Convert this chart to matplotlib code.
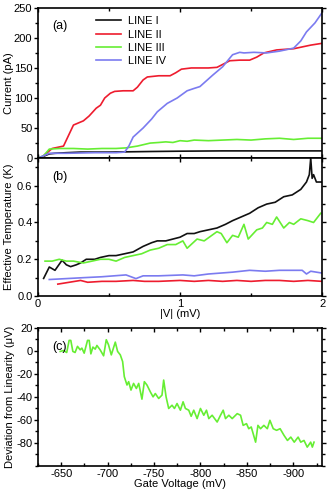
import matplotlib
matplotlib.use("Agg")
import matplotlib.pyplot as plt
from matplotlib.ticker import MultipleLocator, FixedLocator

plt.rcParams['font.family'] = ['Liberation Sans', 'DejaVu Sans']
plt.rcParams['font.size'] = 8
plt.rcParams['axes.unicode_minus'] = False

# ---------------- panel (a): current vs |V| ----------------
v_line1 = [0.0, 0.04, 0.08, 0.12, 0.2, 0.3, 0.5, 0.8, 1.0, 1.3, 1.6, 2.0]
i_line1 = [0, 3, 7, 8, 9, 10, 10, 11, 11.5, 12, 12, 12]

v_line2 = [0.0, 0.03, 0.06, 0.10, 0.14, 0.18, 0.21, 0.25, 0.28, 0.32, 0.36, 0.41,
           0.44, 0.47, 0.51, 0.54, 0.60, 0.67, 0.70, 0.74, 0.77, 0.85, 0.93,
           0.97, 1.01, 1.08, 1.20, 1.26, 1.31, 1.35, 1.42, 1.49, 1.54, 1.59,
           1.68, 1.80, 1.92, 2.0]
i_line2 = [0, 2, 8, 16, 18, 20, 35, 55, 58, 62, 70, 83, 88, 100, 108, 111,
           112, 112, 118, 130, 135, 137, 137, 142, 148, 150, 150, 151, 157,
           162, 163, 163, 168, 175, 180, 182, 188, 191]

v_line3 = [0.0, 0.04, 0.08, 0.15, 0.25, 0.35, 0.45, 0.55, 0.62, 0.70, 0.79,
           0.85, 0.90, 0.95, 1.00, 1.05, 1.10, 1.20, 1.30, 1.40, 1.50, 1.60,
           1.70, 1.80, 1.90, 2.0]
i_line3 = [0, 4, 15, 16, 16, 15, 16, 16, 17, 20, 25, 26, 27, 26, 29, 28, 30,
           29, 30, 31, 30, 32, 33, 31, 33, 33]

v_line4 = [0.0, 0.04, 0.08, 0.2, 0.4, 0.55, 0.61, 0.64, 0.67, 0.74, 0.80,
           0.84, 0.91, 0.98, 1.05, 1.10, 1.14, 1.23, 1.30, 1.37, 1.42, 1.45,
           1.52, 1.61, 1.70, 1.80, 1.85, 1.89, 1.95, 2.0]
i_line4 = [0, 4, 8, 8, 9, 9, 10, 20, 35, 50, 65, 77, 91, 100, 112, 116, 119,
           138, 152, 172, 176, 175, 176, 175, 178, 183, 195, 210, 225, 242]

# ---------------- panel (b): effective temperature ----------------
v_temp1 = [0.04, 0.08, 0.12, 0.17, 0.20, 0.23, 0.27, 0.30, 0.34, 0.40, 0.44,
           0.50, 0.55, 0.61, 0.67, 0.74, 0.80, 0.84, 0.90, 0.95, 1.00, 1.05,
           1.10, 1.14, 1.20, 1.26, 1.32, 1.37, 1.43, 1.49, 1.55, 1.61, 1.67,
           1.73, 1.79, 1.85, 1.89, 1.91, 1.92, 1.93, 1.94, 1.96, 2.0]
t_temp1 = [0.096, 0.158, 0.14, 0.195, 0.17, 0.16, 0.17, 0.18, 0.20, 0.20,
           0.21, 0.22, 0.22, 0.23, 0.24, 0.27, 0.29, 0.30, 0.30, 0.31, 0.32,
           0.34, 0.34, 0.35, 0.36, 0.37, 0.39, 0.41, 0.43, 0.45, 0.48, 0.50,
           0.51, 0.54, 0.55, 0.58, 0.62, 0.66, 0.75, 0.64, 0.66, 0.62, 0.62]

v_temp2 = [0.14, 0.22, 0.30, 0.35, 0.45, 0.55, 0.67, 0.75, 0.85, 1.0, 1.1,
           1.2, 1.3, 1.4, 1.5, 1.6, 1.7, 1.8, 1.9, 2.0]
t_temp2 = [0.065, 0.075, 0.085, 0.075, 0.08, 0.08, 0.085, 0.08, 0.08, 0.085,
           0.08, 0.085, 0.08, 0.085, 0.08, 0.085, 0.085, 0.08, 0.085, 0.08]

v_temp3 = [0.05, 0.10, 0.15, 0.20, 0.25, 0.32, 0.38, 0.44, 0.50, 0.55, 0.61,
           0.67, 0.73, 0.79, 0.85, 0.91, 0.97, 1.02, 1.05, 1.12, 1.17, 1.26,
           1.29, 1.33, 1.37, 1.41, 1.45, 1.48, 1.54, 1.58, 1.61, 1.65, 1.68,
           1.73, 1.77, 1.80, 1.85, 1.90, 1.94, 1.99]
t_temp3 = [0.19, 0.19, 0.20, 0.19, 0.19, 0.18, 0.19, 0.20, 0.20, 0.19, 0.21,
           0.22, 0.23, 0.25, 0.26, 0.28, 0.28, 0.30, 0.26, 0.31, 0.30, 0.35,
           0.34, 0.29, 0.33, 0.32, 0.39, 0.31, 0.36, 0.37, 0.40, 0.39, 0.43,
           0.37, 0.40, 0.39, 0.42, 0.41, 0.40, 0.45]

v_temp4 = [0.08, 0.20, 0.32, 0.45, 0.62, 0.69, 0.74, 0.85, 1.02, 1.10, 1.20,
           1.37, 1.49, 1.60, 1.70, 1.80, 1.86, 1.89, 1.92, 2.0]
t_temp4 = [0.09, 0.095, 0.10, 0.105, 0.115, 0.095, 0.11, 0.11, 0.115, 0.11,
           0.12, 0.13, 0.14, 0.135, 0.14, 0.14, 0.14, 0.12, 0.135, 0.125]

# ---------------- panel (c): deviation from linearity ----------------
gate_mv = [-649, -652.5, -656, -658.6, -660.4, -662.6, -665, -667.6, -670.5,
           -672.3, -674.8, -678.4, -680.2, -682, -684.2, -686.7, -688.5, -692,
           -695.7, -698.6, -701, -704, -708.3, -710.8, -713.7, -716.2, -718,
           -720.9, -722.7, -725.2, -728, -731, -733.5, -737, -739.6, -742.4,
           -746, -749, -751.4, -755, -758.6, -760.4, -763, -765.8, -769.4,
           -772, -774.8, -778.4, -781.3, -783.8, -787.4, -790, -792.8, -796.4,
           -800, -803.6, -806.5, -809, -812.6, -818, -821.6, -824.5, -827,
           -830.6, -834.2, -839.6, -843.2, -846, -849.6, -852, -854.7, -859.4,
           -861.9, -864.7, -868.3, -872, -874.8, -878.4, -882, -885.8, -890,
           -893.7, -897.3, -901, -905.2, -908, -911.5, -915, -918.7, -920.5,
           -922.3]
deviation_uv = [-0.4, 0.4, -1.3, 9.2, 9.2, -0.4, -1.3, 4, 1, 2.5, -1.9, 9.2,
                9.2, -2.5, 3.4, 1.6, 4.8, 1, -4.2, 9.8, 5.4, -3.4, 7.7, -0.4,
                -3.4, -9.2, -22.3, -29.6, -26.7, -34, -28.2, -32.6, -28.2,
                -41.9, -26.7, -29.6, -35.5, -39.9, -37, -41.3, -38.4, -25.3,
                -39.9, -50, -47.2, -50, -45.7, -51.5, -44.2, -50, -51.5, -56.8,
                -51.5, -58.8, -50, -55.9, -51.5, -58.8, -55.9, -61.8, -55.9,
                -51.5, -58.8, -55.9, -58.8, -54.5, -55.9, -64.7, -63.2, -67.6,
                -66.1, -79.3, -64.7, -67.6, -64.7, -67.6, -60.3, -67.6, -69,
                -67.6, -73.4, -77.8, -74.9, -79.3, -74.9, -79.3, -77.8, -83.6,
                -79.3, -83.6, -79.3]
dev_ticks = [-80, -60, -40, -20, 0, 20]

BLACK = "#111111"
RED = "#ee1c2e"
GREEN = "#66ee33"
BLUE = "#7b7bf0"
LW = 1.2


def style_axes(ax):
    for s in ax.spines.values():
        s.set_linewidth(1.2)
    ax.tick_params(which='both', width=1.0, top=True, right=True)
    ax.tick_params(axis='y', which='major', direction='out', length=3, pad=1)
    ax.tick_params(axis='y', which='minor', direction='out', length=2)
    ax.tick_params(axis='x', which='major', direction='in', length=3, pad=2)
    ax.tick_params(axis='x', which='minor', direction='in', length=2)
    # ticks on the opposite sides point inwards
    ax.tick_params(axis='y', which='both', right=True)


fig = plt.figure(figsize=(3.27, 4.91), dpi=100)
ax_a = fig.add_axes([0.116, 0.678, 0.869, 0.306])
ax_b = fig.add_axes([0.116, 0.397, 0.869, 0.281])
ax_c = fig.add_axes([0.116, 0.051, 0.869, 0.281])

# (a)
ax_a.plot(v_line1, i_line1, color=BLACK, lw=LW, label="LINE I")
ax_a.plot(v_line2, i_line2, color=RED, lw=LW, label="LINE II")
ax_a.plot(v_line3, i_line3, color=GREEN, lw=LW, label="LINE III")
ax_a.plot(v_line4, i_line4, color=BLUE, lw=LW, label="LINE IV")
ax_a.set_xlim(0, 2)
ax_a.set_ylim(0, 250)
ax_a.xaxis.set_major_locator(MultipleLocator(1))
ax_a.xaxis.set_minor_locator(MultipleLocator(0.5))
ax_a.yaxis.set_major_locator(MultipleLocator(50))
ax_a.yaxis.set_minor_locator(MultipleLocator(25))
ax_a.set_xticklabels([])
ax_a.set_ylabel("Current (pA)", labelpad=0)
ax_a.text(0.05, 0.88, "(a)", transform=ax_a.transAxes, fontsize=9, va='center')
ax_a.legend(loc='upper left', bbox_to_anchor=(0.17, 1.01), frameon=False,
            handlelength=2.2, handletextpad=0.7, labelspacing=0.3, fontsize=8)
style_axes(ax_a)

# (b)
ax_b.plot(v_temp1, t_temp1, color=BLACK, lw=LW)
ax_b.plot(v_temp2, t_temp2, color=RED, lw=LW)
ax_b.plot(v_temp3, t_temp3, color=GREEN, lw=LW)
ax_b.plot(v_temp4, t_temp4, color=BLUE, lw=LW)
ax_b.set_xlim(0, 2)
ax_b.set_ylim(0, 0.75)
ax_b.xaxis.set_major_locator(MultipleLocator(1))
ax_b.xaxis.set_minor_locator(MultipleLocator(0.5))
ax_b.yaxis.set_major_locator(MultipleLocator(0.2))
ax_b.yaxis.set_minor_locator(MultipleLocator(0.1))
ax_b.set_ylabel("Effective Temperature (K)", labelpad=2)
ax_b.set_xlabel("|V| (mV)", labelpad=0)
ax_b.text(0.05, 0.86, "(b)", transform=ax_b.transAxes, fontsize=9, va='center')
style_axes(ax_b)

# (c)
ax_c.plot(gate_mv, deviation_uv, color=GREEN, lw=LW)
ax_c.set_xlim(-625, -931)
ax_c.set_ylim(-100, 20)
ax_c.xaxis.set_major_locator(MultipleLocator(50))
ax_c.xaxis.set_minor_locator(MultipleLocator(25))
ax_c.yaxis.set_major_locator(FixedLocator(dev_ticks))
ax_c.yaxis.set_minor_locator(MultipleLocator(10))
ax_c.set_ylabel("Deviation from Linearity (\u03bcV)", labelpad=1)
ax_c.set_xlabel("Gate Voltage (mV)", labelpad=0)
ax_c.text(0.05, 0.86, "(c)", transform=ax_c.transAxes, fontsize=9, va='center')
style_axes(ax_c)

fig.savefig("out.png", dpi=100)
